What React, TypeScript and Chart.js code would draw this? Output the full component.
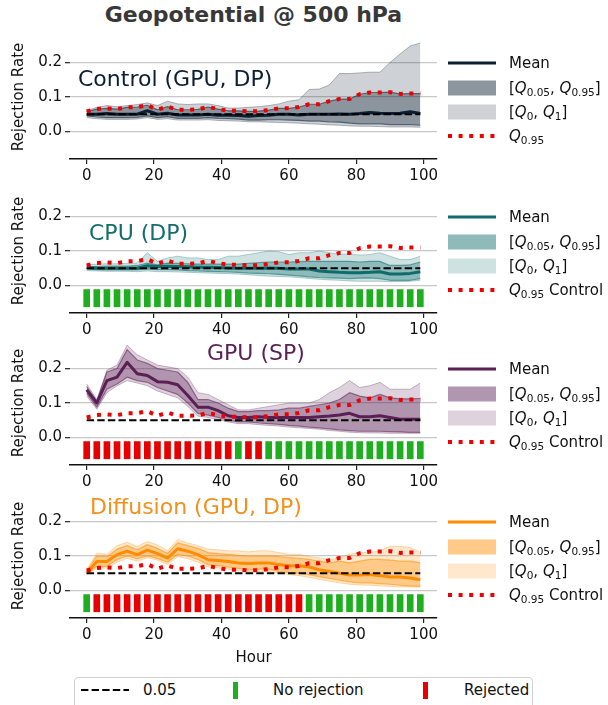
import React, { useEffect, useRef } from "react";
import { Chart, registerables } from "chart.js";

Chart.register(...registerables);

// ---------------- data ----------------
const HOURS = [0, 3, 6, 9, 12, 15, 18, 21, 24, 27, 30, 33, 36, 39, 42, 45, 48, 51, 54, 57, 60, 63, 66, 69, 72, 75, 78, 81, 84, 87, 90, 93, 96, 99];
const X_TICKS = [0, 20, 40, 60, 80, 100];
const Y_TICKS = [0, 0.1, 0.2];
const ALPHA_LEVEL = 0.05;
const BAR_LOW = -0.063;
const BAR_HIGH = -0.011;

const CONTROL_MEAN = [0.050, 0.050, 0.052, 0.050, 0.050, 0.050, 0.060, 0.050, 0.053, 0.048, 0.048, 0.048, 0.050, 0.047, 0.047, 0.046, 0.044, 0.046, 0.047, 0.050, 0.050, 0.048, 0.050, 0.050, 0.050, 0.051, 0.050, 0.052, 0.055, 0.053, 0.052, 0.053, 0.057, 0.052];
const CONTROL_Q95 = [0.058, 0.065, 0.067, 0.065, 0.070, 0.071, 0.076, 0.063, 0.072, 0.063, 0.063, 0.064, 0.071, 0.065, 0.060, 0.060, 0.058, 0.059, 0.062, 0.067, 0.067, 0.071, 0.079, 0.079, 0.088, 0.094, 0.094, 0.108, 0.113, 0.113, 0.114, 0.109, 0.110, 0.110];
const CONTROL_Q05 = [0.045, 0.042, 0.040, 0.040, 0.040, 0.041, 0.045, 0.040, 0.043, 0.038, 0.038, 0.038, 0.040, 0.038, 0.037, 0.036, 0.033, 0.033, 0.034, 0.034, 0.033, 0.032, 0.030, 0.030, 0.028, 0.027, 0.024, 0.022, 0.022, 0.022, 0.020, 0.020, 0.020, 0.018];
const CONTROL_Q0 = [0.040, 0.037, 0.035, 0.035, 0.035, 0.036, 0.040, 0.035, 0.037, 0.033, 0.033, 0.033, 0.034, 0.032, 0.031, 0.030, 0.028, 0.028, 0.027, 0.026, 0.025, 0.024, 0.022, 0.021, 0.019, 0.018, 0.016, 0.015, 0.015, 0.014, 0.013, 0.013, 0.013, 0.012];
const CONTROL_Q1 = [0.060, 0.070, 0.075, 0.072, 0.075, 0.078, 0.083, 0.075, 0.088, 0.080, 0.078, 0.080, 0.080, 0.075, 0.068, 0.068, 0.070, 0.072, 0.075, 0.080, 0.088, 0.092, 0.122, 0.123, 0.135, 0.168, 0.168, 0.170, 0.172, 0.172, 0.200, 0.225, 0.248, 0.257];

const CPU_MEAN = [0.052, 0.050, 0.050, 0.050, 0.050, 0.050, 0.057, 0.055, 0.056, 0.055, 0.054, 0.053, 0.053, 0.052, 0.051, 0.050, 0.050, 0.050, 0.051, 0.050, 0.048, 0.048, 0.048, 0.042, 0.040, 0.038, 0.037, 0.037, 0.038, 0.040, 0.033, 0.033, 0.035, 0.040];
const CPU_Q95 = [0.055, 0.055, 0.056, 0.056, 0.056, 0.058, 0.065, 0.060, 0.065, 0.064, 0.063, 0.062, 0.062, 0.062, 0.062, 0.062, 0.064, 0.066, 0.068, 0.068, 0.068, 0.069, 0.070, 0.070, 0.070, 0.070, 0.070, 0.068, 0.070, 0.070, 0.058, 0.058, 0.060, 0.068];
const CPU_Q05 = [0.047, 0.046, 0.045, 0.045, 0.045, 0.045, 0.048, 0.046, 0.046, 0.045, 0.043, 0.042, 0.041, 0.040, 0.039, 0.038, 0.036, 0.035, 0.034, 0.032, 0.030, 0.028, 0.025, 0.023, 0.022, 0.021, 0.020, 0.021, 0.022, 0.020, 0.015, 0.015, 0.015, 0.020];
const CPU_Q1 = [0.060, 0.062, 0.063, 0.063, 0.064, 0.065, 0.095, 0.070, 0.080, 0.085, 0.080, 0.080, 0.075, 0.075, 0.085, 0.085, 0.090, 0.095, 0.100, 0.098, 0.090, 0.095, 0.095, 0.100, 0.095, 0.090, 0.092, 0.088, 0.090, 0.095, 0.085, 0.075, 0.075, 0.085];
const CPU_Q0 = [0.043, 0.042, 0.041, 0.041, 0.041, 0.040, 0.042, 0.040, 0.040, 0.039, 0.038, 0.037, 0.036, 0.035, 0.034, 0.033, 0.031, 0.029, 0.027, 0.026, 0.025, 0.023, 0.020, 0.018, 0.016, 0.015, 0.013, 0.012, 0.012, 0.012, 0.011, 0.011, 0.012, 0.015];
const CPU_REJECTED = [0, 0, 0, 0, 0, 0, 0, 0, 0, 0, 0, 0, 0, 0, 0, 0, 0, 0, 0, 0, 0, 0, 0, 0, 0, 0, 0, 0, 0, 0, 0, 0, 0, 0];

const GPU_MEAN = [0.138, 0.100, 0.165, 0.175, 0.218, 0.185, 0.180, 0.162, 0.160, 0.153, 0.122, 0.088, 0.088, 0.078, 0.063, 0.058, 0.058, 0.060, 0.058, 0.058, 0.058, 0.058, 0.058, 0.060, 0.062, 0.065, 0.070, 0.060, 0.060, 0.063, 0.058, 0.053, 0.053, 0.053];
const GPU_Q95 = [0.148, 0.105, 0.190, 0.200, 0.255, 0.225, 0.215, 0.200, 0.195, 0.190, 0.160, 0.110, 0.110, 0.100, 0.085, 0.075, 0.075, 0.078, 0.078, 0.080, 0.085, 0.085, 0.090, 0.095, 0.100, 0.110, 0.130, 0.120, 0.115, 0.125, 0.115, 0.112, 0.112, 0.113];
const GPU_Q05 = [0.128, 0.088, 0.140, 0.155, 0.175, 0.165, 0.160, 0.145, 0.135, 0.125, 0.100, 0.070, 0.065, 0.058, 0.050, 0.045, 0.045, 0.042, 0.040, 0.038, 0.035, 0.033, 0.030, 0.028, 0.025, 0.022, 0.020, 0.018, 0.018, 0.018, 0.017, 0.016, 0.015, 0.015];
const GPU_Q1 = [0.155, 0.110, 0.195, 0.210, 0.268, 0.240, 0.225, 0.210, 0.205, 0.200, 0.175, 0.130, 0.125, 0.110, 0.095, 0.080, 0.080, 0.085, 0.090, 0.095, 0.100, 0.100, 0.100, 0.110, 0.130, 0.145, 0.165, 0.145, 0.150, 0.160, 0.140, 0.140, 0.140, 0.158];
const GPU_Q0 = [0.120, 0.082, 0.130, 0.150, 0.165, 0.158, 0.150, 0.135, 0.125, 0.115, 0.090, 0.062, 0.058, 0.052, 0.045, 0.040, 0.040, 0.037, 0.035, 0.033, 0.030, 0.028, 0.026, 0.024, 0.020, 0.018, 0.015, 0.014, 0.013, 0.013, 0.012, 0.012, 0.012, 0.012];
const GPU_REJECTED = [1, 1, 1, 1, 1, 1, 1, 1, 1, 1, 1, 1, 1, 1, 1, 0, 1, 1, 0, 0, 0, 0, 0, 0, 0, 0, 0, 0, 0, 0, 0, 0, 0, 0];

const DIFF_MEAN = [0.050, 0.084, 0.084, 0.104, 0.114, 0.104, 0.117, 0.107, 0.094, 0.121, 0.114, 0.104, 0.089, 0.087, 0.084, 0.080, 0.078, 0.080, 0.080, 0.075, 0.072, 0.072, 0.068, 0.060, 0.055, 0.050, 0.045, 0.045, 0.046, 0.043, 0.039, 0.039, 0.036, 0.031];
const DIFF_Q95 = [0.055, 0.100, 0.098, 0.120, 0.130, 0.118, 0.133, 0.122, 0.108, 0.138, 0.130, 0.122, 0.110, 0.107, 0.105, 0.102, 0.100, 0.100, 0.100, 0.098, 0.095, 0.093, 0.090, 0.085, 0.080, 0.085, 0.080, 0.085, 0.090, 0.090, 0.088, 0.085, 0.085, 0.080];
const DIFF_Q05 = [0.048, 0.070, 0.070, 0.090, 0.100, 0.092, 0.100, 0.093, 0.082, 0.105, 0.100, 0.090, 0.075, 0.072, 0.068, 0.064, 0.060, 0.062, 0.062, 0.055, 0.052, 0.050, 0.046, 0.040, 0.035, 0.030, 0.025, 0.022, 0.022, 0.020, 0.018, 0.015, 0.013, 0.012];
const DIFF_Q1 = [0.060, 0.108, 0.105, 0.130, 0.140, 0.128, 0.142, 0.132, 0.115, 0.148, 0.138, 0.130, 0.120, 0.118, 0.115, 0.115, 0.112, 0.115, 0.115, 0.110, 0.105, 0.105, 0.098, 0.095, 0.090, 0.095, 0.105, 0.110, 0.110, 0.115, 0.128, 0.128, 0.125, 0.110];
const DIFF_Q0 = [0.045, 0.065, 0.065, 0.082, 0.093, 0.085, 0.095, 0.088, 0.075, 0.098, 0.092, 0.082, 0.068, 0.065, 0.062, 0.058, 0.055, 0.055, 0.055, 0.050, 0.046, 0.043, 0.038, 0.032, 0.027, 0.022, 0.018, 0.016, 0.015, 0.013, 0.012, 0.010, 0.010, 0.010];
const DIFF_REJECTED = [0, 1, 1, 1, 1, 1, 1, 1, 1, 1, 1, 1, 1, 1, 1, 1, 1, 1, 1, 1, 1, 1, 0, 0, 0, 0, 0, 0, 0, 0, 0, 0, 0, 0];

// ---------------- style / layout ----------------
const FONT = "'DejaVu Sans', 'Liberation Sans', sans-serif";
const RED_DOT = "#ee0000";
const GREEN_BAR = "#1fae1f";
const RED_BAR = "#e60000";
const X_MIN = -4.95;
const X_MAX = 103.95;
const Y_MIN = -0.08;
const Y_MAX = 0.28;
const CANVAS_W = 608;
const PAD_TOP = 16;
const AREA_H = 124;
const AREA_LEFT = 70;
const AREA_RIGHT = 437;

type Panel = {
  label: string;
  rgb: string;
  labelColor: string;
  labelLeft: number;
  labelDy: number;
  mean: number[];
  q05: number[];
  q95: number[];
  q0: number[];
  q1: number[];
  rejected: number[] | null;
  controlSuffix: boolean;
  top: number;
  xAxisH: number;
  showHour: boolean;
};

const PANELS: Panel[] = [
  { label: "Control (GPU, DP)", rgb: "11,31,51", labelColor: "#0b1f33", labelLeft: 78, labelDy: 44, mean: CONTROL_MEAN, q05: CONTROL_Q05, q95: CONTROL_Q95, q0: CONTROL_Q0, q1: CONTROL_Q1, rejected: null, controlSuffix: false, top: 35, xAxisH: 30, showHour: false },
  { label: "CPU (DP)", rgb: "16,108,108", labelColor: "#136d6d", labelLeft: 89, labelDy: 44, mean: CPU_MEAN, q05: CPU_Q05, q95: CPU_Q95, q0: CPU_Q0, q1: CPU_Q1, rejected: CPU_REJECTED, controlSuffix: true, top: 189, xAxisH: 30, showHour: false },
  { label: "GPU (SP)", rgb: "90,31,84", labelColor: "#5a1f54", labelLeft: 207, labelDy: 12, mean: GPU_MEAN, q05: GPU_Q05, q95: GPU_Q95, q0: GPU_Q0, q1: GPU_Q1, rejected: GPU_REJECTED, controlSuffix: true, top: 341, xAxisH: 30, showHour: false },
  { label: "Diffusion (GPU, DP)", rgb: "255,140,0", labelColor: "#f4901c", labelLeft: 90, labelDy: 13, mean: DIFF_MEAN, q05: DIFF_Q05, q95: DIFF_Q95, q0: DIFF_Q0, q1: DIFF_Q1, rejected: DIFF_REJECTED, controlSuffix: true, top: 494, xAxisH: 50, showHour: true },
];

const LIGHT_A = 0.2;
const DARK_A = 0.34;

function pts(arr: number[]) {
  return arr.map((y, i) => ({ x: HOURS[i], y }));
}

function buildConfig(p: Panel): any {
  const c = (a: number) => `rgba(${p.rgb},${a})`;
  const line = { type: "line", pointRadius: 0, tension: 0, borderJoinStyle: "round" };
  const datasets: any[] = [
    { ...line, label: "Q1", data: pts(p.q1), borderColor: c(0.3), borderWidth: 1, backgroundColor: c(LIGHT_A), fill: "+1", order: 6 },
    { ...line, label: "Q0", data: pts(p.q0), borderColor: c(0.3), borderWidth: 1, fill: false, order: 6 },
    { ...line, label: "Q95", data: pts(p.q95), borderColor: c(0.55), borderWidth: 1.2, backgroundColor: c(DARK_A), fill: "+1", order: 5 },
    { ...line, label: "Q05", data: pts(p.q05), borderColor: c(0.55), borderWidth: 1.2, fill: false, order: 5 },
    { ...line, label: "Mean", data: pts(p.mean), borderColor: c(1), borderWidth: 3, fill: false, order: 2 },
    { ...line, label: "0.05", data: [{ x: HOURS[0], y: ALPHA_LEVEL }, { x: HOURS[HOURS.length - 1], y: ALPHA_LEVEL }], borderColor: "#000", borderWidth: 2, borderDash: [7.4, 3.2], fill: false, order: 1 },
    { ...line, label: "Q95 Control", data: pts(CONTROL_Q95), borderColor: RED_DOT, borderWidth: 4, borderDash: [4, 6.6], borderCapStyle: "butt", fill: false, order: 0 },
  ];
  if (p.rejected) {
    datasets.push({
      type: "bar",
      label: "rejection",
      data: HOURS.map((h) => ({ x: h, y: [BAR_LOW, BAR_HIGH] })),
      backgroundColor: p.rejected.map((r) => (r ? RED_BAR : GREEN_BAR)),
      borderWidth: 0,
      barPercentage: 0.66,
      categoryPercentage: 1,
      order: 4,
    });
  }
  const tickFont = { family: FONT, size: 15 };
  return {
    type: "line",
    data: { datasets },
    options: {
      responsive: false,
      animation: false,
      events: [],
      devicePixelRatio: 1,
      layout: { padding: { top: PAD_TOP, left: 0, right: CANVAS_W - AREA_RIGHT, bottom: 0 } },
      plugins: { legend: { display: false }, tooltip: { enabled: false }, title: { display: false } },
      scales: {
        x: {
          type: "linear",
          min: X_MIN,
          max: X_MAX,
          offset: false,
          afterBuildTicks: (s: any) => {
            s.ticks = X_TICKS.map((v) => ({ value: v }));
          },
          afterFit: (s: any) => {
            s.height = p.xAxisH;
          },
          grid: { drawOnChartArea: false, drawTicks: true, tickLength: 5, tickColor: "#222", lineWidth: 1.2, offset: false },
          border: { display: true, color: "#111", width: 1.5 },
          ticks: { color: "#111", font: tickFont, padding: 3, maxRotation: 0, autoSkip: false, callback: (v: any) => String(v) },
          title: { display: p.showHour, text: "Hour", color: "#111", font: tickFont, padding: { top: 0, bottom: 1 } },
        },
        y: {
          type: "linear",
          min: Y_MIN,
          max: Y_MAX,
          afterBuildTicks: (s: any) => {
            s.ticks = Y_TICKS.map((v) => ({ value: v }));
          },
          afterFit: (s: any) => {
            s.width = AREA_LEFT;
          },
          grid: { color: "#c8c8c8", lineWidth: 1.3, tickLength: 5, tickColor: "#333", drawTicks: true },
          border: { display: false },
          ticks: { color: "#111", font: tickFont, padding: 3, callback: (v: any) => Number(v).toFixed(1) },
          title: { display: true, text: "Rejection Rate", color: "#111", font: tickFont, padding: { top: 10, bottom: 0 } },
        },
      },
    },
  };
}

function PanelChart({ p }: { p: Panel }) {
  const ref = useRef<HTMLCanvasElement>(null);
  const h = PAD_TOP + AREA_H + p.xAxisH;
  useEffect(() => {
    if (!ref.current) return;
    const chart = new Chart(ref.current, buildConfig(p));
    return () => chart.destroy();
  }, []);
  return (
    <canvas
      ref={ref}
      width={CANVAS_W}
      height={h}
      style={{ position: "absolute", left: 0, top: p.top - PAD_TOP, width: CANVAS_W, height: h }}
    />
  );
}

const Q = ({ s }: { s: string }) => (
  <>
    <i>Q</i>
    <span style={{ fontSize: "70%", position: "relative", top: "0.3em" }}>{s}</span>
  </>
);

function Handle({ kind, rgb }: { kind: string; rgb: string }) {
  const w = 48;
  return (
    <svg width={w} height={16} style={{ position: "absolute", left: 448, top: -8 }}>
      {kind === "line" && <line x1={0} y1={8} x2={w} y2={8} stroke={`rgb(${rgb})`} strokeWidth={3} />}
      {kind === "dark" && <rect x={0} y={0.5} width={w} height={15} fill={`rgba(${rgb},${1 - (1 - LIGHT_A) * (1 - DARK_A)})`} />}
      {kind === "light" && <rect x={0} y={0.5} width={w} height={15} fill={`rgba(${rgb},${LIGHT_A})`} />}
      {kind === "dots" && <line x1={0} y1={8} x2={w} y2={8} stroke={RED_DOT} strokeWidth={4} strokeDasharray="4 6.6" />}
    </svg>
  );
}

function PanelLegend({ p }: { p: Panel }) {
  const rows: { kind: string; dy: number; text: React.ReactNode }[] = [
    { kind: "line", dy: 28, text: "Mean" },
    { kind: "dark", dy: 53, text: <>[<Q s="0.05" />, <Q s="0.95" />]</> },
    { kind: "light", dy: 77, text: <>[<Q s="0" />, <Q s="1" />]</> },
    { kind: "dots", dy: 101, text: <><Q s="0.95" />{p.controlSuffix ? " Control" : ""}</> },
  ];
  return (
    <>
      {rows.map((r, i) => (
        <div key={i} style={{ position: "absolute", left: 0, top: p.top + r.dy, width: CANVAS_W, height: 0 }}>
          <Handle kind={r.kind} rgb={p.rgb} />
          <div style={{ position: "absolute", left: 509, top: -10, height: 20, lineHeight: "20px", fontSize: 15, whiteSpace: "nowrap", color: "#111" }}>
            {r.text}
          </div>
        </div>
      ))}
    </>
  );
}

export default function App() {
  return (
    <div style={{ position: "absolute", left: 0, top: 0, width: 608, height: 705, overflow: "hidden", background: "#fff", fontFamily: FONT }}>
      <div style={{ position: "absolute", left: AREA_LEFT, width: AREA_RIGHT - AREA_LEFT, top: 1, textAlign: "center", fontWeight: "bold", fontSize: 22, lineHeight: "28px", color: "#383838" }}>
        Geopotential @ 500 hPa
      </div>
      {PANELS.map((p, i) => (
        <React.Fragment key={i}>
          <PanelChart p={p} />
          <div style={{ position: "absolute", left: p.labelLeft, top: p.top + p.labelDy - 14, fontSize: 22, lineHeight: "28px", color: p.labelColor, whiteSpace: "nowrap" }}>
            {p.label}
          </div>
          <PanelLegend p={p} />
        </React.Fragment>
      ))}
      <div style={{ position: "absolute", left: 74, top: 677, width: 459, height: 34, border: "1px solid #d0d0d0", borderRadius: 4, boxSizing: "border-box", background: "#fff" }} />
      <svg width={48} height={10} style={{ position: "absolute", left: 81, top: 685 }}>
        <line x1={0} y1={5} x2={48} y2={5} stroke="#000" strokeWidth={2} strokeDasharray="7.4 3.2" />
      </svg>
      <div style={{ position: "absolute", left: 143, top: 680, lineHeight: "20px", fontSize: 15, color: "#111" }}>0.05</div>
      <div style={{ position: "absolute", left: 233, top: 682, width: 5, height: 17, background: GREEN_BAR }} />
      <div style={{ position: "absolute", left: 273, top: 680, lineHeight: "20px", fontSize: 15, color: "#111" }}>No rejection</div>
      <div style={{ position: "absolute", left: 423, top: 682, width: 5, height: 17, background: RED_BAR }} />
      <div style={{ position: "absolute", left: 464, top: 680, lineHeight: "20px", fontSize: 15, color: "#111" }}>Rejected</div>
    </div>
  );
}
